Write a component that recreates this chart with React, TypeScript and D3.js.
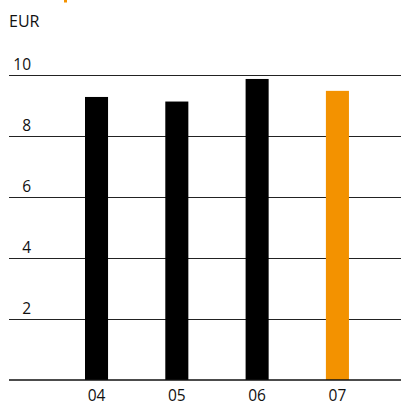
import React from "react";
import * as d3 from "d3";

const years = ["04", "05", "06", "07"];
const values = [9.28, 9.13, 9.87, 9.48];
const barColors = ["#000000", "#000000", "#000000", "#f39200"];
const yTicks = [2, 4, 6, 8, 10];
const unitLabel = "EUR";

const W = 401;
const H = 405;

export default function App() {
  const y = d3.scaleLinear().domain([0, 10]).range([380, 75]);
  const x = d3
    .scaleBand<string>()
    .domain(years)
    .range([44.85, 389.1])
    .paddingInner(0.713)
    .paddingOuter(0.5);
  const font = "'Open Sans', 'Noto Sans', sans-serif";
  const crisp = (v: number) => Math.round(v) + 0.5;
  return (
    <svg
      width={W}
      height={H}
      style={{ position: "absolute", left: 0, top: 0, background: "#fff" }}
      fontFamily={font}
    >
      <rect x={64} y={0} width={3} height={2.5} fill="#f39200" />
      <text x={9} y={26.5} fontSize={16} fill="#111">
        {unitLabel}
      </text>
      {yTicks.map((t) => (
        <g key={t}>
          <line
            x1={9}
            x2={W}
            y1={crisp(y(t))}
            y2={crisp(y(t))}
            stroke="#222"
            strokeWidth={1}
          />
          <text
            x={31}
            y={y(t) - 5.5}
            fontSize={15.5}
            textAnchor="end"
            fill="#111"
          >
            {t}
          </text>
        </g>
      ))}
      {years.map((yr, i) => (
        <rect
          key={yr}
          x={x(yr)}
          y={y(values[i])}
          width={x.bandwidth()}
          height={y(0) - y(values[i])}
          fill={barColors[i]}
        />
      ))}
      <line x1={9} x2={W} y1={y(0)} y2={y(0)} stroke="#111" strokeWidth={1.5} />
      {years.map((yr) => (
        <text
          key={yr}
          x={(x(yr) as number) + x.bandwidth() / 2}
          y={401}
          fontSize={15.5}
          textAnchor="middle"
          fill="#111"
        >
          {yr}
        </text>
      ))}
    </svg>
  );
}
